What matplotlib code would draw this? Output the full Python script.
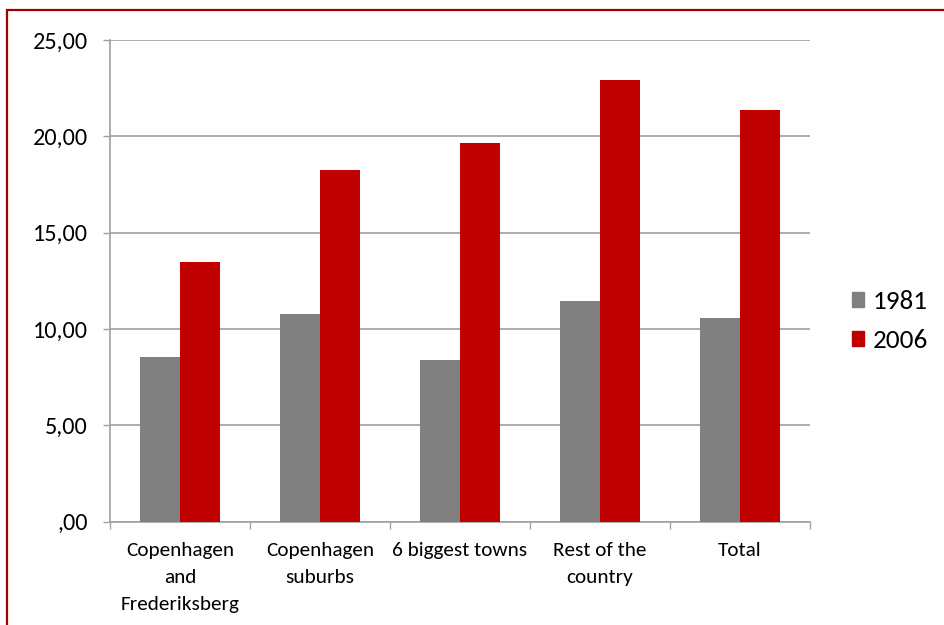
import matplotlib
matplotlib.use("Agg")
import matplotlib.pyplot as plt
import numpy as np
from matplotlib.patches import Rectangle, Patch
from matplotlib.ticker import FuncFormatter, FixedLocator, NullFormatter

plt.rcParams['font.family'] = ['Carlito', 'Lato', 'DejaVu Sans']

categories = ["Copenhagen\nand\nFrederiksberg", "Copenhagen\nsuburbs",
              "6 biggest towns", "Rest of the\ncountry", "Total"]
values_1981 = [8.53, 10.77, 8.39, 11.45, 10.58]
values_2006 = [13.46, 18.25, 19.64, 22.91, 21.37]
series_labels = ["1981", "2006"]
colors = ["#808080", "#c00000"]
y_ticks = [0, 5, 10, 15, 20, 25]

W, H = 944, 625
fig = plt.figure(figsize=(W / 100, H / 100), dpi=100)
ax = fig.add_axes([110 / W, 1 - 521.5 / H, 700 / W, 481.5 / H])

x = np.arange(len(categories))
bw = 40 / 140
ax.bar(x - bw / 2, values_1981, width=bw, color=colors[0], label=series_labels[0], zorder=3)
ax.bar(x + bw / 2, values_2006, width=bw, color=colors[1], label=series_labels[1], zorder=3)

ax.set_xlim(-0.5, len(categories) - 0.5)
ax.set_ylim(0, 25)

grid_col = "#a0a0a0"
ax.set_yticks(y_ticks)
ax.yaxis.set_major_formatter(FuncFormatter(
    lambda v, p: ",00" if v == 0 else f"{v:.2f}".replace(".", ",")))
ax.grid(axis="y", color=grid_col, linewidth=1.2, zorder=0)

# category labels centred, tick marks at category boundaries
ax.xaxis.set_major_locator(FixedLocator(np.arange(-0.5, len(categories), 1.0)))
ax.xaxis.set_major_formatter(NullFormatter())
ax.xaxis.set_minor_locator(FixedLocator(x))
ax.set_xticklabels(categories, minor=True)
ax.tick_params(axis="x", which="minor", length=0, pad=14.5, labelsize=15.3)
ax.tick_params(axis="x", which="major", length=5, width=1, color=grid_col, direction="out")
ax.tick_params(axis="y", length=5, width=1, color=grid_col, pad=11, labelsize=17.5)
for lbl in ax.get_xticklabels(minor=True):
    lbl.set_multialignment("center")
    lbl.set_linespacing(1.72)

for s in ["top", "right"]:
    ax.spines[s].set_visible(False)
for s in ["left", "bottom"]:
    ax.spines[s].set_color(grid_col)
    ax.spines[s].set_linewidth(1.2)

handles = [Patch(color=c, label=l) for c, l in zip(colors, series_labels)]
fig.legend(handles=handles, loc="center left", bbox_to_anchor=(852 / W, 1 - 321 / H),
           frameon=False, fontsize=19.5, handlelength=0.45, handleheight=0.45,
           handletextpad=0.3, labelspacing=0.6, borderpad=0, borderaxespad=0)

# outer frame
fig.patches.append(Rectangle((6.5 / W, -0.05), 1.2, 1 - 10 / H + 0.05,
                             transform=fig.transFigure, fill=False,
                             edgecolor="#a00000", linewidth=1.6))

fig.savefig("out.png", dpi=100)
